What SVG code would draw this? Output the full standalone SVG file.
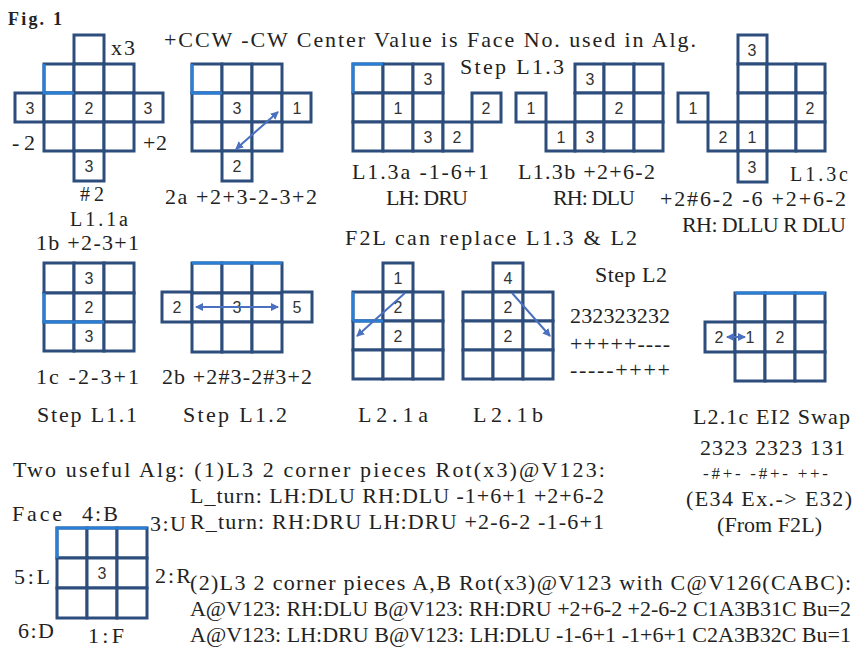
<svg xmlns="http://www.w3.org/2000/svg" width="854" height="648" viewBox="0 0 854 648">
<defs>
<style>
.c{fill:#fff;stroke:#2d4d7c;stroke-width:3}
.hl{fill:none;stroke:#2a7fd4;stroke-width:3}
.n{font-family:"Liberation Sans",Arial,sans-serif;font-size:16px;fill:#333;text-anchor:middle}
.t{font-family:"Liberation Serif","Times New Roman",serif;font-size:22px;fill:#222}
.s{font-family:"Liberation Serif","Times New Roman",serif;font-size:17px;fill:#222}
.a{fill:none;stroke:#4a70bf;stroke-width:2;marker-start:url(#ah);marker-end:url(#ah)}
.a1{fill:none;stroke:#4a70bf;stroke-width:2;marker-end:url(#ah)}
</style>
<marker id="ah" viewBox="0 0 8 8" refX="7" refY="4" markerWidth="4" markerHeight="4" orient="auto-start-reverse">
<path d="M0,0 L8,4 L0,8 z" fill="#4a70bf"/>
</marker>
</defs>
<rect width="854" height="648" fill="#fff"/>

<text class="t" x="8" y="25" style="font-weight:bold;font-size:18px" textLength="54">Fig. 1</text>
<text class="t" x="164" y="47" textLength="532">+CCW -CW Center Value is Face No. used in Alg.</text>

<g id="grid-l11a">
<rect class="c" x="74" y="35" width="30" height="29"/>
<rect class="c" x="44" y="64" width="30" height="29"/><rect class="c" x="74" y="64" width="30" height="29"/><rect class="c" x="104" y="64" width="30" height="29"/>
<rect class="c" x="15" y="93" width="29" height="29"/><rect class="c" x="44" y="93" width="30" height="29"/><rect class="c" x="74" y="93" width="30" height="29"/><rect class="c" x="104" y="93" width="30" height="29"/><rect class="c" x="134" y="93" width="29" height="29"/>
<rect class="c" x="44" y="122" width="30" height="29"/><rect class="c" x="74" y="122" width="30" height="29"/><rect class="c" x="104" y="122" width="30" height="29"/>
<rect class="c" x="74" y="151" width="30" height="30"/>
<path class="hl" d="M44,64 V93 H74"/>
<text class="n" x="30" y="114">3</text><text class="n" x="89" y="114">2</text><text class="n" x="148" y="114">3</text><text class="n" x="89" y="172">3</text>
<text class="t" x="111" y="55" textLength="24">x3</text>
<text class="t" x="12" y="150" textLength="23">-2</text>
<text class="t" x="143" y="150" textLength="24">+2</text>
<text class="t" x="80" y="201" style="font-size:20px" textLength="24">#2</text>
<text class="t" x="70" y="226" style="font-size:20px" textLength="58">L1.1a</text>
</g>

<g id="grid-2a">
<rect class="c" x="192" y="64" width="30" height="29"/><rect class="c" x="222" y="64" width="30" height="29"/><rect class="c" x="252" y="64" width="30" height="29"/>
<rect class="c" x="192" y="93" width="30" height="29"/><rect class="c" x="222" y="93" width="30" height="29"/><rect class="c" x="252" y="93" width="30" height="29"/><rect class="c" x="282" y="93" width="29" height="29"/>
<rect class="c" x="192" y="122" width="30" height="29"/><rect class="c" x="222" y="122" width="30" height="29"/><rect class="c" x="252" y="122" width="30" height="29"/>
<rect class="c" x="222" y="151" width="30" height="30"/>
<path class="hl" d="M192,64 V93 H222"/>
<text class="n" x="237" y="114">3</text><text class="n" x="297" y="114">1</text><text class="n" x="237" y="172">2</text>
<text class="t" x="165" y="204" textLength="152">2a +2+3-2-3+2</text>
</g>

<g id="grid-l13a">
<rect class="c" x="353" y="64" width="30" height="29"/><rect class="c" x="383" y="64" width="30" height="29"/><rect class="c" x="413" y="64" width="30" height="29"/>
<rect class="c" x="353" y="93" width="30" height="29"/><rect class="c" x="383" y="93" width="30" height="29"/><rect class="c" x="413" y="93" width="30" height="29"/>
<rect class="c" x="353" y="122" width="30" height="29"/><rect class="c" x="383" y="122" width="30" height="29"/><rect class="c" x="413" y="122" width="30" height="29"/><rect class="c" x="443" y="122" width="29" height="29"/>
<rect class="c" x="472" y="93" width="29" height="29"/>
<path class="hl" d="M353,93 V64 H383"/>
<text class="n" x="428" y="85">3</text><text class="n" x="398" y="114">1</text><text class="n" x="428" y="143">3</text><text class="n" x="457" y="143">2</text><text class="n" x="486" y="114">2</text>
<text class="t" x="352" y="179" textLength="137">L1.3a -1-6+1</text>
<text class="t" x="386" y="205" textLength="82">LH: DRU</text>
</g>

<text class="t" x="460" y="74" textLength="104">Step L1.3</text>

<g id="grid-l13b">
<rect class="c" x="516" y="93" width="30" height="29"/>
<rect class="c" x="546" y="122" width="29" height="29"/>
<rect class="c" x="575" y="64" width="29" height="29"/><rect class="c" x="604" y="64" width="30" height="29"/><rect class="c" x="634" y="64" width="29" height="29"/>
<rect class="c" x="575" y="93" width="29" height="29"/><rect class="c" x="604" y="93" width="30" height="29"/><rect class="c" x="634" y="93" width="29" height="29"/>
<rect class="c" x="575" y="122" width="29" height="29"/><rect class="c" x="604" y="122" width="30" height="29"/><rect class="c" x="634" y="122" width="29" height="29"/>
<text class="n" x="590" y="85">3</text><text class="n" x="619" y="114">2</text><text class="n" x="531" y="114">1</text><text class="n" x="561" y="143">1</text><text class="n" x="590" y="143">3</text>
<text class="t" x="518" y="179" textLength="137">L1.3b +2+6-2</text>
<text class="t" x="553" y="205" textLength="82">RH: DLU</text>
</g>

<g id="grid-l13c">
<rect class="c" x="738" y="35" width="29" height="29"/>
<rect class="c" x="738" y="64" width="29" height="29"/><rect class="c" x="767" y="64" width="29" height="29"/><rect class="c" x="796" y="64" width="29" height="29"/>
<rect class="c" x="678" y="93" width="30" height="29"/>
<rect class="c" x="738" y="93" width="29" height="29"/><rect class="c" x="767" y="93" width="29" height="29"/><rect class="c" x="796" y="93" width="29" height="29"/>
<rect class="c" x="708" y="122" width="30" height="29"/>
<rect class="c" x="738" y="122" width="29" height="29"/><rect class="c" x="767" y="122" width="29" height="29"/><rect class="c" x="796" y="122" width="29" height="29"/>
<rect class="c" x="738" y="151" width="29" height="31"/>
<text class="n" x="752" y="56">3</text><text class="n" x="810" y="114">2</text><text class="n" x="693" y="114">1</text><text class="n" x="723" y="143">2</text><text class="n" x="752" y="143">1</text><text class="n" x="752" y="173">3</text>
<text class="t" x="790" y="181" style="font-size:20px" textLength="58">L1.3c</text>
<text class="t" x="660" y="206" textLength="186">+2#6-2 -6 +2+6-2</text>
<text class="t" x="682" y="232" textLength="164">RH: DLLU R DLU</text>
</g>

<text class="t" x="345" y="245" textLength="292">F2L can replace L1.3 &amp; L2</text>

<g id="grid-l11bc">
<text class="t" x="36" y="250" textLength="103">1b +2-3+1</text>
<rect class="c" x="44" y="263" width="30" height="30"/><rect class="c" x="74" y="263" width="30" height="30"/><rect class="c" x="104" y="263" width="30" height="30"/>
<rect class="c" x="44" y="293" width="30" height="29"/><rect class="c" x="74" y="293" width="30" height="29"/><rect class="c" x="104" y="293" width="30" height="29"/>
<rect class="c" x="44" y="322" width="30" height="29"/><rect class="c" x="74" y="322" width="30" height="29"/><rect class="c" x="104" y="322" width="30" height="29"/>
<path class="hl" d="M44,293 V322 H104"/>
<text class="n" x="89" y="284">3</text><text class="n" x="89" y="313">2</text><text class="n" x="89" y="342">3</text>
<text class="t" x="36" y="384" textLength="103">1c -2-3+1</text>
<text class="t" x="37" y="422" textLength="100">Step L1.1</text>
</g>

<g id="grid-2b">
<rect class="c" x="192" y="263" width="30" height="30"/><rect class="c" x="222" y="263" width="30" height="30"/><rect class="c" x="252" y="263" width="30" height="30"/>
<rect class="c" x="162" y="292" width="30" height="30"/><rect class="c" x="192" y="293" width="30" height="29"/><rect class="c" x="222" y="293" width="30" height="29"/><rect class="c" x="252" y="293" width="30" height="29"/><rect class="c" x="282" y="292" width="30" height="30"/>
<rect class="c" x="192" y="322" width="30" height="30"/><rect class="c" x="222" y="322" width="30" height="30"/><rect class="c" x="252" y="322" width="30" height="30"/>
<path class="hl" d="M192,263 H282"/>
<text class="n" x="177" y="313">2</text><text class="n" x="237" y="313">3</text><text class="n" x="297" y="313">5</text>
<text class="t" x="162" y="384" textLength="150">2b +2#3-2#3+2</text>
<text class="t" x="183" y="422" textLength="104">Step L1.2</text>
</g>

<g id="grid-l21a">
<rect class="c" x="383" y="263" width="30" height="29"/>
<rect class="c" x="353" y="292" width="30" height="29"/><rect class="c" x="383" y="292" width="30" height="29"/><rect class="c" x="413" y="292" width="30" height="29"/>
<rect class="c" x="353" y="321" width="30" height="29"/><rect class="c" x="383" y="321" width="30" height="29"/><rect class="c" x="413" y="321" width="30" height="29"/>
<rect class="c" x="353" y="350" width="30" height="29"/><rect class="c" x="383" y="350" width="30" height="29"/><rect class="c" x="413" y="350" width="30" height="29"/>
<path class="hl" d="M353,321 V292 M353,321 H383"/>
<text class="n" x="398" y="284">1</text><text class="n" x="398" y="313">2</text><text class="n" x="398" y="342">2</text>
<text class="t" x="358" y="422" textLength="70">L2.1a</text>
</g>

<g id="grid-l21b">
<rect class="c" x="493" y="263" width="30" height="29"/>
<rect class="c" x="463" y="292" width="30" height="29"/><rect class="c" x="493" y="292" width="30" height="29"/><rect class="c" x="523" y="292" width="30" height="29"/>
<rect class="c" x="463" y="321" width="30" height="29"/><rect class="c" x="493" y="321" width="30" height="29"/><rect class="c" x="523" y="321" width="30" height="29"/>
<rect class="c" x="463" y="350" width="30" height="29"/><rect class="c" x="493" y="350" width="30" height="29"/><rect class="c" x="523" y="350" width="30" height="29"/>
<text class="n" x="508" y="284">4</text><text class="n" x="508" y="313">2</text><text class="n" x="508" y="342">2</text>
<text class="t" x="473" y="422" textLength="70">L2.1b</text>
</g>

<g id="step-l2">
<text class="t" x="595" y="282" textLength="72">Step L2</text>
<text class="t" x="570" y="323" textLength="100">232323232</text>
<text class="t" x="570" y="351" textLength="100">+++++----</text>
<text class="t" x="570" y="377" textLength="100">-----++++</text>
</g>

<g id="grid-l21c">
<rect class="c" x="735" y="293" width="30" height="29"/><rect class="c" x="765" y="293" width="30" height="29"/><rect class="c" x="795" y="293" width="30" height="29"/>
<rect class="c" x="705" y="322" width="30" height="30"/><rect class="c" x="735" y="322" width="30" height="30"/><rect class="c" x="765" y="322" width="30" height="30"/><rect class="c" x="795" y="322" width="30" height="30"/>
<rect class="c" x="735" y="352" width="30" height="29"/><rect class="c" x="765" y="352" width="30" height="29"/><rect class="c" x="795" y="352" width="30" height="29"/>
<path class="hl" d="M735,293 H825"/>
<text class="n" x="719" y="343">2</text><text class="n" x="750" y="343">1</text><text class="n" x="780" y="343">2</text>
<text class="t" x="693" y="424" textLength="157">L2.1c EI2 Swap</text>
<text class="t" x="700" y="455" textLength="145">2323 2323 131</text>
<text class="s" x="703" y="479" textLength="125">-#+- -#+- ++-</text>
<text class="t" x="686" y="506" textLength="166">(E34 Ex.-&gt; E32)</text>
<text class="t" x="717" y="532" textLength="105">(From F2L)</text>
</g>

<g id="connectors">
<line class="a" x1="278" y1="112" x2="236" y2="149"/>
<line class="a" x1="196" y1="307" x2="278" y2="307"/>
<line class="a1" x1="405" y1="293" x2="357" y2="336"/>
<line class="a1" x1="512" y1="293" x2="550" y2="336"/>
<line class="a" x1="727" y1="337" x2="745" y2="337"/>
</g>

<g id="face-key">
<text class="t" x="12" y="521" textLength="50">Face</text>
<text class="t" x="82" y="521" textLength="36">4:B</text>
<text class="t" x="150" y="531" textLength="36">3:U</text>
<rect class="c" x="57" y="528" width="30" height="30"/><rect class="c" x="87" y="528" width="30" height="30"/><rect class="c" x="117" y="528" width="30" height="30"/>
<rect class="c" x="57" y="558" width="30" height="30"/><rect class="c" x="87" y="558" width="30" height="30"/><rect class="c" x="117" y="558" width="30" height="30"/>
<rect class="c" x="57" y="588" width="30" height="30"/><rect class="c" x="87" y="588" width="30" height="30"/><rect class="c" x="117" y="588" width="30" height="30"/>
<path class="hl" d="M57,558 V528 H147"/>
<text class="n" x="102" y="579">3</text>
<text class="t" x="14" y="584" textLength="36">5:L</text>
<text class="t" x="155" y="583" textLength="36">2:R</text>
<text class="t" x="18" y="638" textLength="36">6:D</text>
<text class="t" x="88" y="643" textLength="36">1:F</text>
</g>

<g id="algs">
<text class="t" x="13" y="477" textLength="592">Two useful Alg: (1)L3 2 corner pieces Rot(x3)@V123:</text>
<text class="t" x="190" y="503" textLength="414">L_turn: LH:DLU RH:DLU -1+6+1 +2+6-2</text>
<text class="t" x="190" y="529" textLength="414">R_turn: RH:DRU LH:DRU +2-6-2 -1-6+1</text>
<text class="t" x="190" y="590" textLength="661">(2)L3 2 corner pieces A,B Rot(x3)@V123 with C@V126(CABC):</text>
<text class="t" x="190" y="616" textLength="661">A@V123: RH:DLU B@V123: RH:DRU +2+6-2 +2-6-2 C1A3B31C Bu=2</text>
<text class="t" x="190" y="642" textLength="661">A@V123: LH:DRU B@V123: LH:DLU -1-6+1 -1+6+1 C2A3B32C Bu=1</text>
</g>
</svg>
